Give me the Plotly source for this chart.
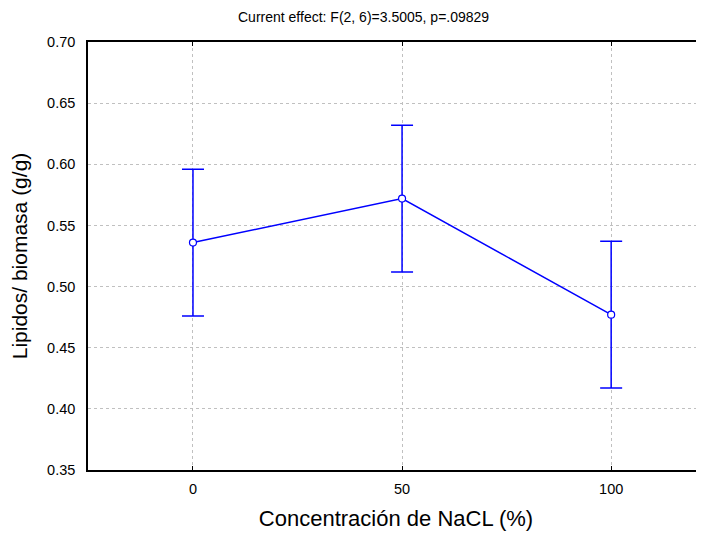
import plotly.graph_objects as go

nacl = [0, 50, 100]
lipidos = [0.536, 0.572, 0.477]
err = [0.060, 0.060, 0.060]
y_ticks = [0.35, 0.40, 0.45, 0.50, 0.55, 0.60, 0.65, 0.70]
y_ticklabels = ["0.35", "0.40", "0.45", "0.50", "0.55", "0.60", "0.65", "0.70"]
x_ticklabels = ["0", "50", "100"]

BLUE = "#0000FF"
fig = go.Figure()
fig.add_trace(go.Scatter(
    x=nacl, y=lipidos, mode="lines+markers",
    line=dict(color=BLUE, width=1.5),
    marker=dict(symbol="circle", size=7, color="white", line=dict(color=BLUE, width=1.2)),
    error_y=dict(type="data", array=err, visible=True, color=BLUE, thickness=1.5, width=11),
    showlegend=False,
))

fig.update_layout(
    width=696, height=529,
    margin=dict(l=80, r=0, t=34, b=67),
    plot_bgcolor="white", paper_bgcolor="white",
    font=dict(family="Arial, Liberation Sans, sans-serif", color="black", size=14),
    xaxis=dict(
        range=[-25.1, 122.2], tickvals=nacl, ticktext=x_ticklabels,
        showgrid=True, gridcolor="#c0c0c0", griddash="dot", gridwidth=1,
        showline=True, linecolor="black", linewidth=1.5, mirror="allticks",
        ticks="inside", ticklen=4, tickcolor="black", zeroline=False,
        tickfont=dict(size=14.5), ticklabelstandoff=5, automargin=False,
        title=dict(text="Concentración de NaCL (%)", font=dict(size=22), standoff=14),
    ),
    yaxis=dict(
        range=[0.35, 0.70], tickvals=y_ticks, ticktext=y_ticklabels,
        showgrid=True, gridcolor="#c0c0c0", griddash="dot", gridwidth=1,
        showline=True, linecolor="black", linewidth=1.5, mirror=False,
        ticks="", zeroline=False, tickfont=dict(size=14.5), ticklabelstandoff=8,
        automargin=False,
        title=dict(text="Lipidos/ biomasa (g/g)", font=dict(size=21), standoff=14),
    ),
)
fig.add_annotation(
    text="Current effect: F(2, 6)=3.5005, p=.09829",
    xref="paper", yref="paper", x=0.448, y=1, yshift=25,
    xanchor="center", yanchor="middle", showarrow=False,
    font=dict(size=14),
)
fig.write_html("out.html")
